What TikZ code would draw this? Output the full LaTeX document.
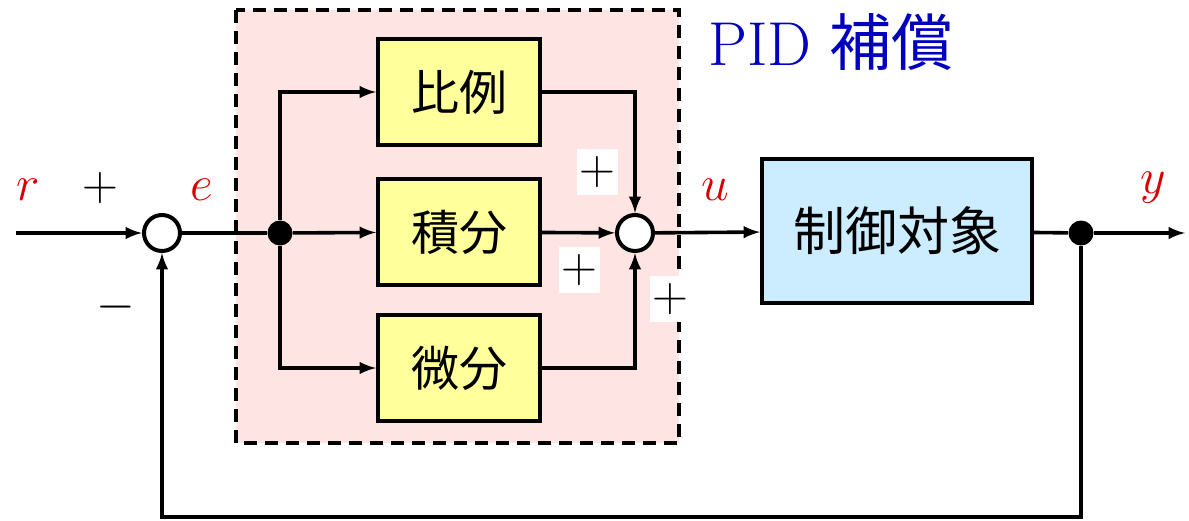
\documentclass[tikz,border=0pt]{standalone}
\usepackage{fontspec}
\newfontfamily\cjk{Noto Sans CJK JP}
\definecolor{pidpink}{RGB}{255,228,228}
\definecolor{blockyellow}{RGB}{255,255,155}
\definecolor{plantblue}{RGB}{204,236,255}
\definecolor{pidblue}{RGB}{0,0,190}
\definecolor{sigred}{RGB}{215,0,0}
\tikzstyle{block}=[draw,line width=2pt,fill=blockyellow,minimum width=81pt,minimum height=53pt,inner sep=0pt,font=\fontsize{24}{28}\selectfont\cjk]
\tikzstyle{plant}=[draw,line width=2pt,fill=plantblue,minimum width=135pt,minimum height=72pt,inner sep=0pt,font=\fontsize{26}{30}\selectfont\cjk]
\tikzstyle{sum}=[circle,draw,line width=2pt,fill=white,minimum size=18pt,inner sep=0pt]
\tikzstyle{branch}=[circle,fill=black,minimum size=12.5pt,inner sep=0pt]
\tikzstyle{edge}=[draw,line width=1.8pt,->,>=latex]
\tikzstyle{wire}=[draw,line width=1.8pt]
\tikzstyle{signal}=[text=sigred,font=\fontsize{27}{30}\selectfont]
\tikzstyle{sign}=[font=\fontsize{27}{30}\selectfont,inner sep=0pt]
\tikzstyle{boxsign}=[sign,fill=white,minimum width=20.5pt,minimum height=23pt]
\tikzstyle{pidbox}=[draw,line width=2pt,dash pattern=on 6.5pt off 4pt,fill=pidpink]
\begin{document}
\begin{tikzpicture}[x=0.5pt,y=-0.5pt]
\useasboundingbox (0,0) rectangle (1189,520);
\path[pidbox] (236,10) rectangle (679,443);
\node[text=pidblue,font=\fontsize{31}{36}\selectfont] (pidlabel) at (831,42) {PID {\cjk 補償}};
\foreach \pos/\name/\text in {{(459,92)/P/比例}, {(459,232)/I/積分}, {(459,368)/D/微分}}{
  \node[block] (\name) at \pos {\text};
}
\node[plant] (G) at (897,231) {制御対象};
\node[sum] (S1) at (162,233) {};
\node[sum] (S2) at (635,233) {};
\node[branch] (E) at (280,233) {};
\node[branch] (Y) at (1081,233) {};
\coordinate (R) at (16,233);
\coordinate (Out) at (1185,233);
\coordinate (FB) at (1081,517);
\path[edge] (R) -- (S1);
\path[wire] (S1) -- (E);
\path[edge] (E) |- (P);
\path[edge] (E) -- (I);
\path[edge] (E) |- (D);
\path[edge] (P) -| (S2);
\path[edge] (I) -- (S2);
\path[edge] (D) -| (S2);
\path[edge] (S2) -- (G);
\path[wire] (G) -- (Y);
\path[edge] (Y) -- (Out);
\path[edge] (Y) -- (FB) -| (S1);
\node[signal] (r) at (28,190) {$r$};
\node[signal] (e) at (202,190) {$e$};
\node[signal] (u) at (715,190) {$u$};
\node[signal] (y) at (1153,188) {$y$};
\node[sign] (rplus) at (100,188) {$+$};
\node[sign] (yminus) at (116,307) {$-$};
\node[boxsign] (pplus) at (597,172) {$+$};
\node[boxsign] (iplus) at (579,270) {$+$};
\node[boxsign] (dplus) at (670,299) {$+$};
\end{tikzpicture}
\end{document}
